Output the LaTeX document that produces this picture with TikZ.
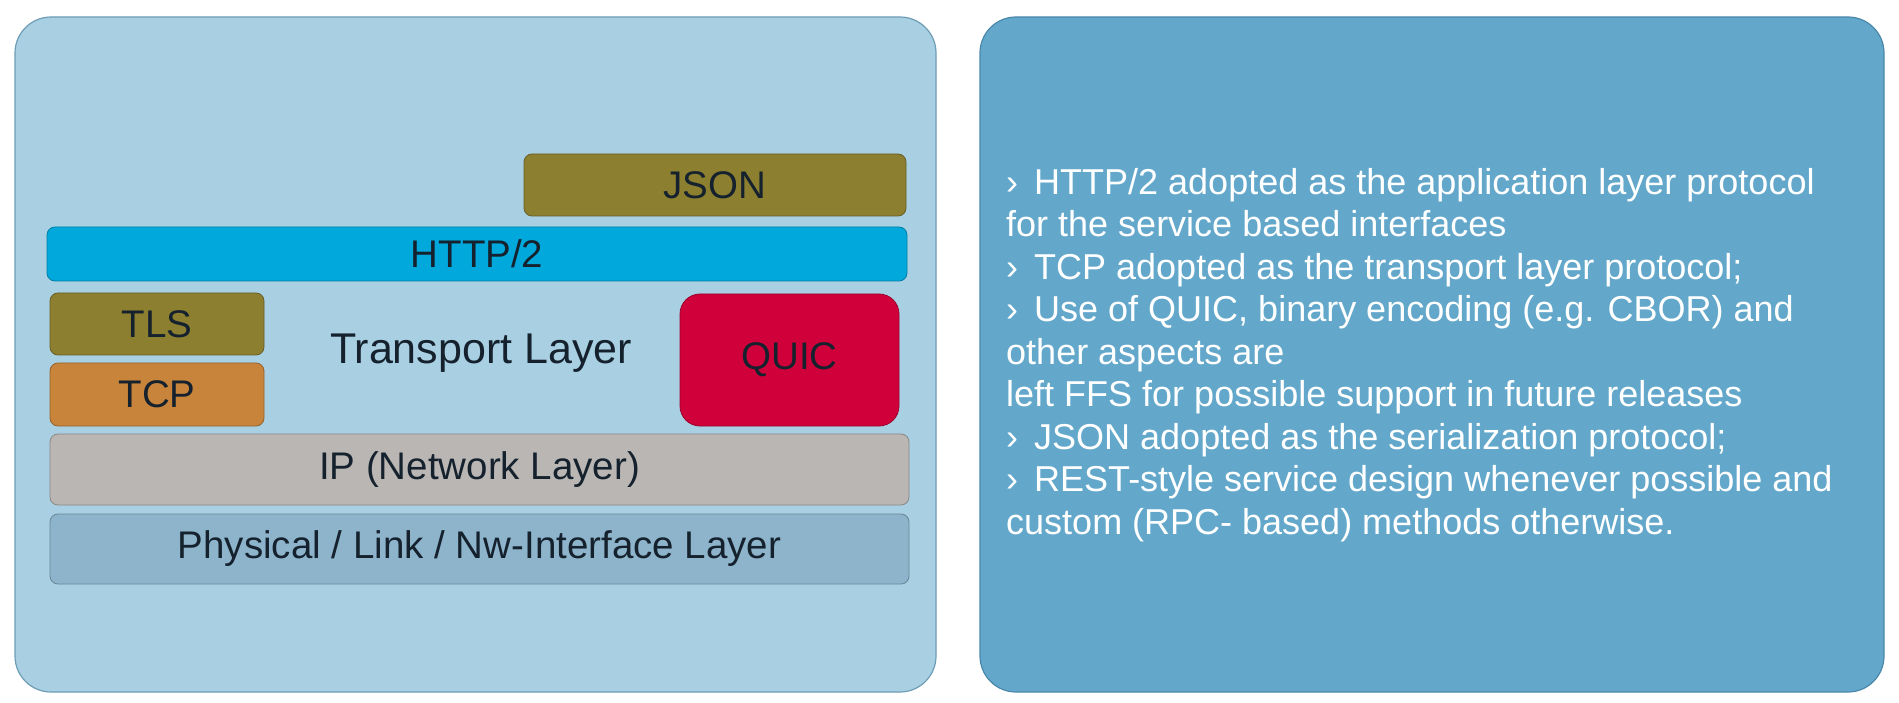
\documentclass[tikz,border=0pt]{standalone}
\usepackage{fontspec}
\setmainfont{Liberation Sans}
\definecolor{leftbg}{HTML}{A8CFE2}
\definecolor{leftbd}{HTML}{6E9DB6}
\definecolor{rightbg}{HTML}{63A8CB}
\definecolor{rightbd}{HTML}{4A88AA}
\definecolor{olive}{HTML}{8C7F30}
\definecolor{httpc}{HTML}{00A8DC}
\definecolor{tcpc}{HTML}{C8843A}
\definecolor{quicc}{HTML}{D0003A}
\definecolor{ipc}{HTML}{B9B6B3}
\definecolor{physc}{HTML}{8DB4CB}
\definecolor{darktxt}{HTML}{15222E}
\tikzset{
  panel/.style={draw, line width=1.2pt, rounded corners=36pt, inner sep=0pt},
  layerbox/.style={draw=#1!75!black, line width=0.8pt, rounded corners=8pt, inner sep=0pt,
     font=\fontsize{38.5}{40}\selectfont, text=darktxt},
}
\begin{document}
\begin{tikzpicture}[x=1pt,y=-1pt]
\useasboundingbox (0,0) rectangle (1899,703);
\fill[white] (0,0) rectangle (1899,703);
% panels
\node[panel, draw=leftbd, fill=leftbg, minimum width=921pt, minimum height=675pt] (left) at (475.5,354.5) {};
\node[panel, draw=rightbd, fill=rightbg, minimum width=904pt, minimum height=675pt] (right) at (1432,354.5) {};
% layer boxes
\node[layerbox=olive, fill=olive, minimum width=382pt, minimum height=62pt] (json) at (715,185) {JSON};
\node[layerbox=httpc, fill=httpc, minimum width=860pt, minimum height=54pt] (http) at (477,254) {HTTP/2};
\node[layerbox=olive, fill=olive, minimum width=214pt, minimum height=62pt] (tls) at (157,324) {TLS};
\node[layerbox=tcpc, fill=tcpc, minimum width=214pt, minimum height=63pt] (tcp) at (157,394.5) {TCP};
\node[layerbox=quicc, fill=quicc, rounded corners=20pt, minimum width=219pt, minimum height=132pt] (quic) at (789.5,360) {QUIC};
\node[layerbox=ipc, fill=ipc, minimum width=859pt, minimum height=71pt] (ip) at (479.5,469.5) {IP (Network Layer)};
\node[layerbox=physc, fill=physc, minimum width=859pt, minimum height=70pt] (phys) at (479.5,549) {Physical / Link / Nw-Interface Layer};
\node[text=darktxt, font=\fontsize{43}{45}\selectfont, inner sep=0pt] (transport) at (481,353) {Transport Layer};
% right text
\node[anchor=north west, align=left, text=white, inner sep=0pt,
      font=\fontsize{36}{42.5}\selectfont] (notes) at (1006,168)
{›\,\ HTTP/2 adopted as the application layer protocol\\
for the service based interfaces\\
›\,\ TCP adopted as the transport layer protocol;\\
›\,\ Use of QUIC, binary encoding (e.g. CBOR) and\\
other aspects are\\
left FFS for possible support in future releases\\
›\,\ JSON adopted as the serialization protocol;\\
›\,\ REST-style service design whenever possible and\\
custom (RPC- based) methods otherwise.};
\end{tikzpicture}
\end{document}
